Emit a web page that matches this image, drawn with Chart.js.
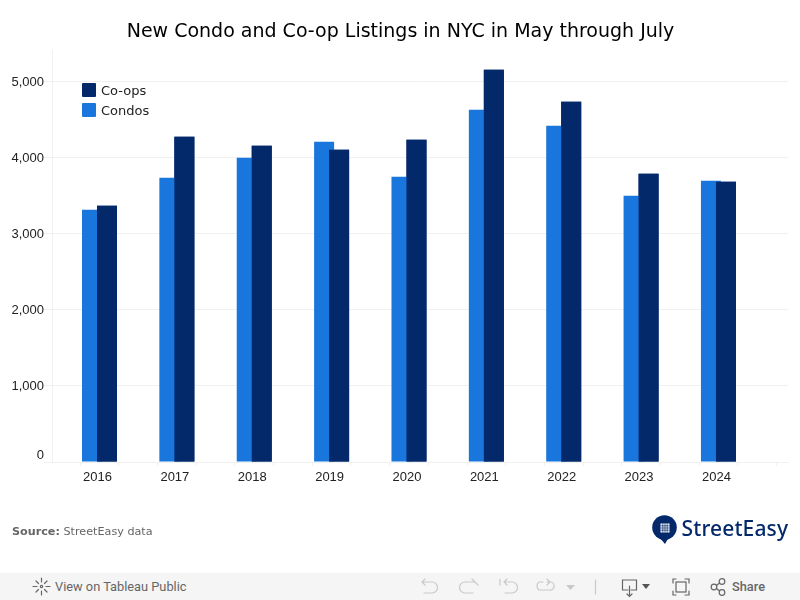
<!DOCTYPE html>
<html>
<head>
<meta charset="utf-8">
<title>New Condo and Co-op Listings in NYC</title>
<script src="https://cdn.jsdelivr.net/npm/chart.js@4"></script>
<style>
  html, body { margin: 0; padding: 0; background: #fff; }
  #wrap { position: relative; width: 800px; height: 600px; overflow: hidden; }
  #myChart { position: absolute; left: 0; top: 0; }
  .legend-row { position: absolute; left: 82px; height: 14px; }
  .legend-row i { position: absolute; left: 0; top: 0; width: 14px; height: 14px; border-radius: 1px; }
  .legend-row span { position: absolute; left: 19px; top: -2.500px; font: 13px/20px "DejaVu Sans"; color: #222; white-space: nowrap; }
  #source { position: absolute; left: 12px; top: 525px; font: 11.2px/14px "DejaVu Sans"; color: #666; }
  #logo { position: absolute; left: 650px; top: 514px; }
  #toolbar { position: absolute; left: 0; top: 573px; width: 800px; height: 27px; background: #f5f5f5; }
  #toolbar span { position: absolute; top: 6px; font: 12.8px/16px Roboto; color: #666; }
  #toolbar svg { position: absolute; left: 0; top: 0; }
</style>
</head>
<body>
<div id="wrap">
  <canvas id="myChart" width="800" height="600"></canvas>
  <div id="legend"></div>
  <div id="source"><b>Source:</b> StreetEasy data</div>
  <svg id="logo" width="145" height="34" viewBox="0 0 145 34">
    <circle cx="14.500" cy="13.500" r="12.300" fill="#03296b"/>
    <path d="M9 23l6 7 4-7z" fill="#03296b"/>
    <rect x="10.500" y="9.500" width="9" height="9" fill="#fff"/>
    <path d="M12.800 9.500v9M15 9.500v9M17.200 9.500v9M10.500 11.800h9M10.500 14h9M10.500 16.200h9" stroke="#03296b" stroke-width=".7"/>
    <text x="31.500" y="22" font-family="Noto Sans" font-weight="500" font-size="21" fill="#03296b" textLength="106.500">StreetEasy</text>
  </svg>
  <div id="toolbar">
    <svg width="800" height="27" fill="none" stroke-linecap="round">
      <g stroke="#666" stroke-width="1.2">
        <circle cx="41.5" cy="13.5" r="1.2"/><path d="M41.5 5v4M41.5 18v4M33 13.5h4M46 13.5h4M36 8l2.5 2.5M47 8l-2.5 2.5M36 19l2.5-2.5M47 19l-2.5-2.5"/>
      </g>
      <g stroke="#c9c9c9" stroke-width="1.2">
        <path d="M422 9h10a5 5 0 0 1 0 11h-8M422 9l3-3M422 9l3 3"/>
        <path d="M475 9h-10a5 5 0 0 0 0 11h8M475 9l-3-3M475 9l3 3" transform="translate(0 0)"/>
        <path d="M500 6v6M504 9h8a5 5 0 0 1 0 11h-7M504 9l3-3M504 9l3 3"/>
        <path d="M543 9h-4a5 5 0 0 0 0 8h10a4 4 0 0 0 2-8h-4M547 6l3 3-3 3"/>
        <path d="M595.5 7v14"/>
      </g>
      <path d="M566 12h9l-4.500 5z" fill="#c9c9c9"/>
      <g stroke="#666" stroke-width="1.2">
        <path d="M628 17h-5.500v-10h14v10h-5.500M629.500 13v10M627 21l2.500 2.500 2.500-2.500"/>
        <path d="M673 10v-4h3M685 6h4v4M689 18v4h-4M676 22h-3v-4"/>
        <rect x="676" y="9" width="10" height="10"/>
        <circle cx="714" cy="14" r="2.800"/><circle cx="722" cy="8.500" r="2.800"/><circle cx="722" cy="19.500" r="2.800"/>
        <path d="M716.500 12.500l3-2.500M716.500 15.500l3 2.500"/>
      </g>
      <path d="M642 11h8l-4 5z" fill="#555"/>
    </svg>
    <span style="left:55px">View on Tableau Public</span>
    <span style="left:732px;font-weight:500">Share</span>
  </div>
</div>

<script>
/* data */
const years = [2016, 2017, 2018, 2019, 2020, 2021, 2022, 2023, 2024];
const condos = [3311, 3732, 3995, 4205, 3745, 4625, 4415, 3495, 3692];
const coops = [3364, 4270, 4152, 4100, 4231, 5151, 4730, 3784, 3679];
const yTicks = [0, 1000, 2000, 3000, 4000, 5000];
const xTicks = [2015.5, 2016, 2016.5, 2017, 2017.5, 2018, 2018.5, 2019, 2019.5, 2020, 2020.5, 2021, 2021.5, 2022, 2022.5, 2023, 2023.5, 2024, 2024.5];

const titleText = 'New Condo and Co-op Listings in NYC in May through July';
const condoColor = '#1976dd';
const coopColor = '#03296b';
const gridColor = '#f0f0f0';

// legend is in the plot area, Co-ops first
const legendItems = [['Co-ops', coopColor], ['Condos', condoColor]];
legendItems.forEach(function (item, i) {
    const row = document.createElement('div');
    row.className = 'legend-row';
    row.style.top = (83 + i * 20) + 'px';
    row.innerHTML = '<i style="background:' + item[1] + '"></i><span>' + item[0] + '</span>';
    document.getElementById('legend').appendChild(row);
});

function points(values) {
    return years.map(function (y, i) { return { x: y, y: values[i] }; });
}

const tweaks = {
    id: 'tweaks',
    // title is centred on the page, not on the padded box
    afterLayout(chart) {
        chart.titleBlock.left += 6.5;
        chart.titleBlock.right += 6.5;
    },
    // chart.js paints the first dataset last, co-ops have to sit over condos
    afterDatasetsDraw(chart) {
        chart.getDatasetMeta(1).controller.draw();
    }
};

const ctx = document.getElementById('myChart').getContext('2d');
new Chart(ctx, {
    type: 'bar',
    data: {
        datasets: [
            { label: 'Condos', data: points(condos), backgroundColor: condoColor },
            { label: 'Co-ops', data: points(coops), backgroundColor: coopColor }
        ]
    },
    plugins: [tweaks],
    options: {
        responsive: false,
        animation: false,
        categoryPercentage: 0.7756,
        barPercentage: 1.3333,
        layout: { padding: { left: 0, right: 12, top: 0, bottom: 98 } },
        plugins: {
            legend: { display: false },
            tooltip: { enabled: false },
            title: {
                display: true,
                text: titleText,
                color: '#000',
                font: { family: 'DejaVu Sans', size: 19, weight: 'normal', lineHeight: 1.2 },
                padding: { top: 21, bottom: 6.2 }
            }
        },
        scales: {
            x: {
                type: 'linear',
                offset: false,
                min: 2015.386,
                max: 2024.899,
                afterFit(s) { s.height = 40; },
                grid: { drawOnChartArea: false, tickLength: 4, tickColor: gridColor },
                border: { color: gridColor },
                afterBuildTicks(s) { s.ticks = xTicks.map(function (v) { return { value: v }; }); },
                ticks: {
                    autoSkip: false,
                    maxRotation: 0,
                    padding: 4,
                    labelOffset: -2,
                    color: '#222',
                    font: { family: 'Liberation Sans', size: 13 },
                    callback(v) { return Number.isInteger(v) ? String(v) : ''; }
                }
            },
            y: {
                min: 0,
                max: 5410,
                afterFit(s) { s.width = 52; },
                afterBuildTicks(s) { s.ticks = yTicks.map(function (v) { return { value: v }; }); },
                grid: { color: gridColor, tickLength: 8, tickColor: gridColor },
                border: { color: gridColor },
                ticks: {
                    padding: 0,
                    labelOffset: 1,
                    color: '#222',
                    font: { family: 'Liberation Sans', size: 13 },
                    // the zero label sits a bit above the axis in the original
                    callback(v) { return v === 0 ? ['0', ''] : v.toLocaleString('en-US'); }
                }
            }
        }
    }
});
</script>
</body>
</html>
